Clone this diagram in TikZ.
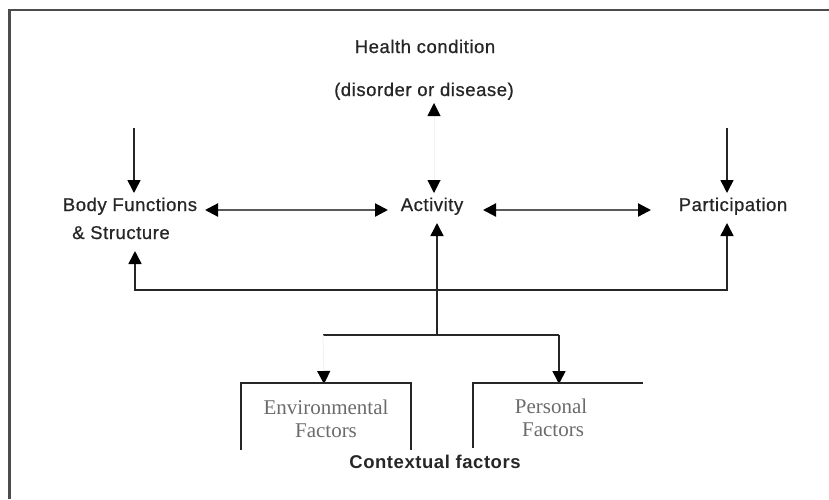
\documentclass[tikz,border=0pt]{standalone}
\usepackage{fontspec}
\setmainfont{Liberation Serif}
\setsansfont{Liberation Sans}[LetterSpace=3]
\newfontfamily\lblfont{Liberation Sans}[LetterSpace=3, FakeBold=0.7]
\usetikzlibrary{arrows.meta}
\begin{document}
\begin{tikzpicture}[x=1pt,y=-1pt,
  lbl/.style={font=\fontsize{18.5}{20}\selectfont\lblfont, inner sep=0pt, anchor=base, text=black!85},
  blbl/.style={font=\fontsize{18.5}{20}\selectfont\sffamily\bfseries, inner sep=0pt, anchor=base, text=black!85},
  serif/.style={font=\fontsize{21}{22}\selectfont\rmfamily, text=black!58, inner sep=0pt, anchor=base},
  ln/.style={line width=1.6pt, black!85},
  dl/.style={line width=2.2pt, black!65},
  tip/.style={-{Triangle[width=13pt,length=13pt,color=black,fill=black]}},
  dtip/.style={{Triangle[width=13pt,length=13pt,color=black,fill=black]}-{Triangle[width=13pt,length=13pt,color=black,fill=black]}},
  faint/.style={line width=1pt, black!5}
]
\useasboundingbox (0,0) rectangle (829,499);
\draw[black!70, line width=2.5pt] (829,10) -- (9.5,10) -- (9.5,499);

% texts
\node[lbl] (hc) at (425,53) {Health condition};
\node[lbl] (dis) at (424,96) {(disorder or disease)};
\node[lbl] (bf1) at (130,211) {Body Functions};
\node[lbl] (bf2) at (121,239) {\& Structure};
\node[lbl] (act) at (432,211) {Activity};
\node[lbl] (par) at (733,211) {Participation};
\node[serif] (env1) at (326,414) {Environmental};
\node[serif] (env2) at (326,437) {Factors};
\node[serif] (per1) at (551,413) {Personal};
\node[serif] (per2) at (553,436) {Factors};
\node[blbl] (ctx) at (435,468) {Contextual factors};

% coordinates
\coordinate (tl) at (134,128); \coordinate (bfTop) at (134,193);
\coordinate (tr) at (727,128); \coordinate (parTop) at (727,193);
\coordinate (bfR) at (205,210); \coordinate (actL) at (388,210);
\coordinate (actR) at (483,210); \coordinate (parL) at (651,210);
\coordinate (disB) at (434,103); \coordinate (actT) at (434,193);
\coordinate (bfB) at (135,251); \coordinate (bfC) at (135,290);
\coordinate (parC) at (727,290); \coordinate (parB) at (727,223);
\coordinate (actB) at (437,223); \coordinate (fork) at (437,335);
\coordinate (forkL) at (323,335); \coordinate (forkR) at (559,335);
\coordinate (envT) at (324,384); \coordinate (perT) at (559,384);

% connectors
\draw[ln,tip] (tl) -- (bfTop);
\draw[ln,tip] (tr) -- (parTop);
\draw[dl,dtip] (bfR) -- (actL);
\draw[dl,dtip] (actR) -- (parL);
\draw[faint,dtip] (disB) -- (actT);
\draw[ln,dtip] (bfB) -- (bfC) -- (parC) -- (parB);
\draw[ln,tip] (fork) -- (actB);
\draw[ln] (forkL) -- (forkR);
\draw[ln,tip] (forkR) -- (perT);
\draw[faint,tip] (forkL) -- (envT);

% brackets
\draw[ln] (241,450) -- (241,383) -- (411,383) -- (411,450);
\draw[ln] (473,448) -- (473,383) -- (643,383);
\end{tikzpicture}
\end{document}
